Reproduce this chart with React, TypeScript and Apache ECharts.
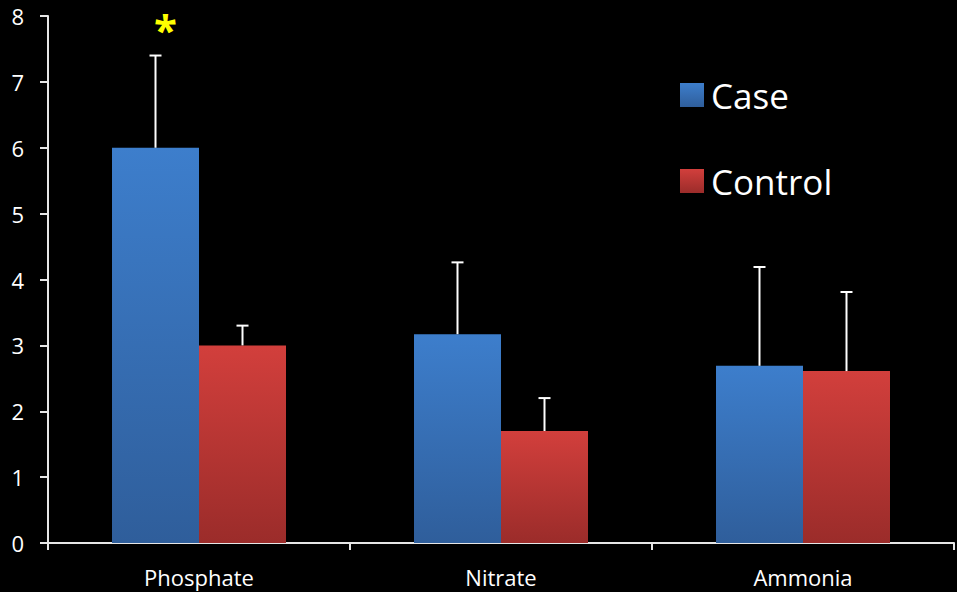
import React, { useEffect, useRef } from "react";
import * as echarts from "echarts";

const categories = ["Phosphate", "Nitrate", "Ammonia"];
const caseValues = [6.0, 3.17, 2.69];
const caseErrTop = [7.4, 4.26, 4.19];
const controlValues = [3.0, 1.7, 2.61];
const controlErrTop = [3.3, 2.2, 3.81];
const yTicks = { min: 0, max: 8, interval: 1 };

const FONT = "'Open Sans', 'Noto Sans', sans-serif";

function errorSeries(name: string, vals: number[], tops: number[], side: number) {
  return {
    type: "custom",
    name: name + "-err",
    silent: true,
    z: 5,
    data: vals.map((v, i) => [i, v, tops[i]]),
    renderItem: (params: any, api: any) => {
      const i = api.value(0);
      const low = api.coord([i, api.value(1)]);
      const high = api.coord([i, api.value(2)]);
      const x = low[0] + side * 43.5;
      const style = { stroke: "#ffffff", lineWidth: 2 };
      return {
        type: "group",
        children: [
          { type: "line", shape: { x1: x, y1: low[1], x2: x, y2: high[1] }, style },
          { type: "line", shape: { x1: x - 6, y1: high[1], x2: x + 6, y2: high[1] }, style },
        ],
      };
    },
  };
}

export default function App() {
  const ref = useRef<HTMLDivElement>(null);
  useEffect(() => {
    const chart = echarts.init(ref.current!, null, { renderer: "svg" });
    const blue = new echarts.graphic.LinearGradient(0, 0, 0, 1, [
      { offset: 0, color: "#3d7ecc" },
      { offset: 1, color: "#2f5e9b" },
    ]);
    const red = new echarts.graphic.LinearGradient(0, 0, 0, 1, [
      { offset: 0, color: "#d23f3c" },
      { offset: 1, color: "#9b2c2a" },
    ]);
    chart.setOption({
      animation: false,
      backgroundColor: "#000000",
      grid: { left: 48, right: 3, top: 16, bottom: 49, containLabel: false },
      legend: {
        orient: "vertical",
        left: 675,
        top: 70,
        itemWidth: 24,
        itemHeight: 24,
        itemGap: 46,
        data: ["Case", "Control"],
        icon: "rect",
        textStyle: { color: "#ffffff", fontSize: 35, fontFamily: FONT, lineHeight: 40, padding: [0, 0, 0, 2] },
      },
      xAxis: {
        type: "category",
        data: categories,
        axisLine: { lineStyle: { color: "#e6e6e6", width: 2 } },
        axisTick: { show: true, length: 7, lineStyle: { color: "#e6e6e6", width: 2 } },
        axisLabel: { color: "#ffffff", fontSize: 22, fontFamily: FONT, margin: 23 },
      },
      yAxis: {
        type: "value",
        min: yTicks.min,
        max: yTicks.max,
        interval: yTicks.interval,
        splitLine: { show: false },
        axisLine: { show: true, lineStyle: { color: "#e6e6e6", width: 2 } },
        axisTick: { show: true, length: 8, lineStyle: { color: "#e6e6e6", width: 2 } },
        axisLabel: { color: "#ffffff", fontSize: 22, fontFamily: FONT, margin: 24 },
      },
      series: [
        {
          type: "bar",
          name: "Case",
          data: caseValues,
          barWidth: 87,
          barGap: "0%",
          itemStyle: { color: blue },
          markPoint: {
            symbol: "circle",
            symbolSize: 0,
            data: [
              {
                coord: [0, 8],
                label: {
                  show: true,
                  formatter: "*",
                  color: "#ffff00",
                  fontSize: 42,
                  fontWeight: "bold",
                  fontFamily: FONT,
                  offset: [10, 12],
                },
              },
            ],
          },
        },
        {
          type: "bar",
          name: "Control",
          data: controlValues,
          barWidth: 87,
          barGap: "0%",
          itemStyle: { color: red },
        },
        errorSeries("Case", caseValues, caseErrTop, -1),
        errorSeries("Control", controlValues, controlErrTop, 1),
      ],
    });
    return () => chart.dispose();
  }, []);
  return (
    <div
      ref={ref}
      style={{ position: "fixed", left: 0, top: 0, width: 957, height: 592 }}
    />
  );
}
